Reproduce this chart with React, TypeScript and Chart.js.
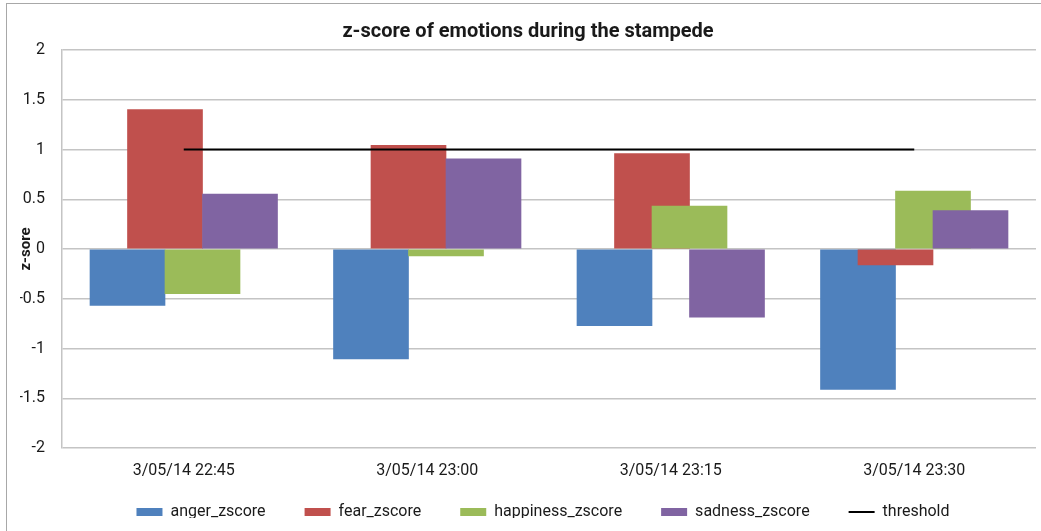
import React, { useEffect, useRef } from "react";
import { Chart, registerables } from "chart.js";

Chart.register(...registerables);

const categories = ["3/05/14 22:45", "3/05/14 23:00", "3/05/14 23:15", "3/05/14 23:30"];
const anger = [-0.566, -1.105, -0.77, -1.41];
const fear = [1.4, 1.042, 0.959, -0.16];
const happiness = [-0.449, -0.07, 0.432, 0.583];
const sadness = [0.553, 0.905, -0.686, 0.386];
const threshold = [1, 1, 1, 1];
const yTicks = [-2, -1.5, -1, -0.5, 0, 0.5, 1, 1.5, 2];

const seriesNames = ["anger_zscore", "fear_zscore", "happiness_zscore", "sadness_zscore", "threshold"];
const colors = ["#4F81BD", "#C0504D", "#9BBB59", "#8064A2", "#000000"];
// Excel-like 50% overlap: bar centers offset within each category (fraction of category width)
const offsets = [-0.231, -0.077, 0.077, 0.231];

const legendShift = {
  id: "legendShift",
  afterLayout(chart: any) {
    const l = chart.legend;
    if (l) {
      l.top -= 13;
      l.bottom -= 13;
      l.left -= 6;
      l.right -= 6;
    }
  },
};

export default function App() {
  const ref = useRef<HTMLCanvasElement>(null);
  useEffect(() => {
    if (!ref.current) return;
    const barSeries = [anger, fear, happiness, sadness];
    const datasets: any[] = barSeries.map((vals, k) => ({
      type: "bar",
      label: seriesNames[k],
      data: vals.map((v, i) => ({ x: i + offsets[k], y: v })),
      backgroundColor: colors[k],
      borderWidth: 0,
      barThickness: 75,
      grouped: false,
      order: 10 - k,
    }));
    datasets.push({
      type: "line",
      label: seriesNames[4],
      data: threshold.map((v, i) => ({ x: i, y: v })),
      borderColor: "#000000",
      backgroundColor: "#000000",
      borderWidth: 2,
      pointRadius: 0,
      order: 0,
    });
    const font = { family: "Roboto", size: 16 };
    const chart = new Chart(ref.current, {
      type: "bar",
      data: { datasets },
      plugins: [legendShift],
      options: {
        animation: false,
        responsive: false,
        layout: { padding: { left: 20, right: 5, top: 0, bottom: 0 } },
        plugins: {
          tooltip: { enabled: false },
          title: {
            display: true,
            text: "z-score of emotions during the stampede",
            color: "#1a1a1a",
            font: { family: "Roboto", size: 20, weight: "bold" },
            padding: { top: 20, bottom: 6 },
          },
          legend: {
            position: "bottom",
            fullSize: false,
            maxHeight: 53,
            labels: {
              usePointStyle: true,
              pointStyleWidth: 26,
              boxHeight: 8,
              padding: 39,
              color: "#1a1a1a",
              font,
              generateLabels: () =>
                seriesNames.map((name, k) => ({
                  text: name,
                  fillStyle: colors[k],
                  strokeStyle: colors[k],
                  lineWidth: k === 4 ? 2 : 0,
                  pointStyle: k === 4 ? "line" : "rect",
                  datasetIndex: k,
                  hidden: false,
                  fontColor: "#1a1a1a",
                })),
            },
          },
        },
        scales: {
          x: {
            type: "linear",
            min: -0.5,
            max: 3.5,
            offset: false,
            grid: { display: false, drawTicks: false },
            border: { display: false },
            afterBuildTicks: (scale: any) => {
              scale.ticks = categories.map((_, i) => ({ value: i }));
            },
            afterFit: (scale: any) => {
              scale.height = 30;
            },
            ticks: {
              padding: 13,
              color: "#1a1a1a",
              font,
              maxRotation: 0,
              autoSkip: false,
              callback: (v: any) => categories[Math.round(Number(v))] ?? "",
            },
          },
          y: {
            min: -2,
            max: 2,
            afterBuildTicks: (scale: any) => {
              scale.ticks = yTicks.map((v) => ({ value: v }));
            },
            afterFit: (scale: any) => {
              scale.width = 42;
            },
            grid: { color: "#c4c4c4", lineWidth: 1.5, drawTicks: false },
            border: { display: true, color: "#c4c4c4", width: 1.5 },
            title: {
              display: true,
              text: "z-sore",
              color: "#1a1a1a",
              font: { family: "Roboto", size: 15, weight: "bold" },
              padding: { top: -3, bottom: 0 },
            },
            ticks: {
              padding: 17,
              color: "#1a1a1a",
              font,
              callback: (v: any) => String(v),
            },
          },
        },
      },
    } as any);
    return () => chart.destroy();
  }, []);
  return (
    <div style={{ position: "absolute", left: 0, top: 0, width: 1041, height: 531, overflow: "hidden", background: "#fff" }}>
      <div style={{ position: "absolute", left: 6, top: 3, width: 1100, height: 600, border: "1.5px solid #a8a8a8" }} />
      <canvas ref={ref} width={1041} height={531} style={{ position: "absolute", left: 0, top: 0 }} />
    </div>
  );
}
